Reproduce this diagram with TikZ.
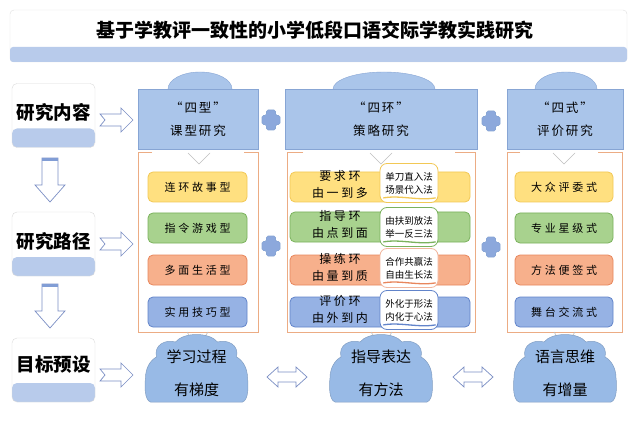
\documentclass[tikz,border=0pt]{standalone}
\usepackage{fontspec}
\newfontfamily\cjk{Noto Sans CJK SC}
\newfontfamily\cjkw[LetterSpace=25]{Noto Sans CJK SC}
\newfontfamily\cjkm[LetterSpace=15]{Noto Sans CJK SC}
\newfontfamily\cjkx[LetterSpace=22]{Noto Sans CJK SC}
\definecolor{hdr}{RGB}{170,197,234}
\definecolor{hdrd}{RGB}{135,165,212}
\definecolor{band}{RGB}{184,203,235}
\definecolor{frameo}{RGB}{236,172,132}
\definecolor{yel}{RGB}{255,224,128}
\definecolor{yeld}{RGB}{242,200,85}
\definecolor{grn}{RGB}{168,210,142}
\definecolor{grnd}{RGB}{122,178,92}
\definecolor{org}{RGB}{247,176,140}
\definecolor{orgd}{RGB}{232,134,92}
\definecolor{blu}{RGB}{150,178,228}
\definecolor{blud}{RGB}{98,132,202}
\definecolor{arr}{RGB}{122,142,196}
\definecolor{plusf}{RGB}{140,168,220}
\definecolor{cloudf}{RGB}{152,186,230}
\tikzset{
  lblbox/.style={draw=black!14, fill=white, rounded corners=5pt, minimum width=83pt, minimum height=64pt, inner sep=0pt,
    path picture={\fill[band] (path picture bounding box.south west) rectangle ([yshift=19pt]path picture bounding box.south east);}},
  lbltxt/.style={font=\cjk\bfseries\fontsize{18.5}{20}\selectfont, inner sep=0pt},
  hdrbox/.style={draw=hdrd, fill=hdr, minimum height=60pt, inner sep=0pt, align=center,
    font=\cjkm\fontsize{12.5}{23}\selectfont},
  dome/.style={draw=hdrd, fill=hdr},
  cbox/.style={rounded corners=5pt, minimum height=30pt, inner sep=0pt, line width=0.8pt},
  ctxt/.style={font=\cjkw\fontsize{11}{13}\selectfont, inner sep=0pt},
  mtxt/.style={font=\cjkx\fontsize{12}{17}\selectfont, inner sep=0pt, align=center},
  callout/.style={fill=white, rounded corners=7pt, minimum width=58pt, minimum height=39pt, inner sep=0pt, line width=0.8pt,
    align=center, font=\cjk\fontsize{9.5}{13}\selectfont},
  frame/.style={draw=frameo, line width=0.8pt},
  vline/.style={draw=black!25, line width=0.6pt},
  plus/.style={fill=plusf, draw=hdrd, rounded corners=1.5pt, line width=0.6pt},
  blockarr/.style={draw=arr, fill=white, line width=0.7pt, line join=miter},
  cloud/.style={fill=cloudf, draw=cloudf!85!black, line width=0.5pt},
  cloudtxt/.style={font=\cjk\fontsize{15}{33}\selectfont, inner sep=0pt, align=center},
  uline/.style={line width=1.3pt, line cap=round},
}
\begin{document}
\begin{tikzpicture}[x=1pt,y=-1pt]
\useasboundingbox (0,0) rectangle (639,430);
\fill[white] (0,0) rectangle (639,430);
% title
\draw[draw=black!12, fill=white, rounded corners=4pt] (10,10) rectangle (627,62);
\fill[band, rounded corners=3pt] (10,47) rectangle (627,62);
\node[font=\cjk\bfseries\fontsize{19}{21}\selectfont, inner sep=0pt] (title) at (315,30) {基于学教评一致性的小学低段口语交际学教实践研究};

% left labels
\node[lblbox] (k1) at (53.5,115.5) {};
\node[lbltxt] (t1) at (53.5,112) {研究内容};
\node[lblbox] (k2) at (53.5,244) {};
\node[lbltxt] (t2) at (53.5,241) {研究路径};
\node[lblbox] (k3) at (53.5,370) {};
\node[lbltxt] (t3) at (53.5,365) {目标预设};

% down arrows
\foreach \yy in {180,306}{
\begin{scope}[shift={(50,\yy)}]
\path[blockarr] (-8,-22) -- (8,-22) -- (8,5) -- (15,5) -- (0,22) -- (-15,5) -- (-8,5) -- cycle;
\fill[blud!80] (-8,-22) rectangle (8,-19);
\end{scope}}
% right notched arrows
\foreach \yy in {120,244,375}{
\begin{scope}[shift={(116.5,\yy)}]
\path[blockarr] (-16.5,-6) -- (4.5,-6) -- (4.5,-12) -- (16.5,0) -- (4.5,12) -- (4.5,6) -- (-16.5,6) -- (-11.5,0) -- cycle;
\end{scope}}

% header domes and boxes
\draw[dome] (200,89) ellipse (32 and 17);
\draw[dome] (384,89) ellipse (51 and 17);
\draw[dome] (566,89) ellipse (31 and 17);
\node[hdrbox, minimum width=120pt] (h1) at (198,119) {“四型”\\课型研究};
\node[hdrbox, minimum width=192pt] (h2) at (381,119) {“四环”\\策略研究};
\node[hdrbox, minimum width=116pt] (h3) at (565,119) {“四式”\\评价研究};

% plus signs
\foreach \xx/\yy in {271/120, 491/121, 271/246, 491/247}{
\begin{scope}[shift={(\xx,\yy)}]
\path[plus] (-4.5,-10) -- (4.5,-10) -- (4.5,-4.5) -- (9,-4.5) -- (9,4.5) -- (4.5,4.5) -- (4.5,10) -- (-4.5,10) -- (-4.5,4.5) -- (-9,4.5) -- (-9,-4.5) -- (-4.5,-4.5) -- cycle;
\end{scope}}

% frames
\draw[frame] (152,152) -- (138,152) -- (138,332) -- (258,332) -- (258,152) -- (244,152);
\draw[frame] (303,152) -- (287,152) -- (287,332) -- (475,332) -- (475,152) -- (455,152);
\draw[frame] (520,152) -- (507,152) -- (507,332) -- (622,332) -- (622,152) -- (598,152);
% chevrons
\draw[vline] (188,153) -- (199,164) -- (210,153);
\draw[vline] (370,153) -- (381,164) -- (392,153);
\draw[vline] (553,153) -- (564,164) -- (575,153);
% funnels to clouds
\draw[vline] (187,332) -- (193,341); \draw[vline] (208,332) -- (202,341);
\draw[vline] (371,332) -- (377,341); \draw[vline] (392,332) -- (386,341);
\draw[vline] (554,332) -- (560,341); \draw[vline] (575,332) -- (569,341);

% left column boxes
\node[cbox, fill=yel, draw=yeld, minimum width=99pt] (a1) at (197.5,187) {};
\node[ctxt] (a1t) at (197.5,187) {连环故事型};
\node[cbox, fill=grn, draw=grnd, minimum width=99pt] (a2) at (197.5,228) {};
\node[ctxt] (a2t) at (197.5,228) {指令游戏型};
\node[cbox, fill=org, draw=orgd, minimum width=99pt] (a3) at (197.5,270) {};
\node[ctxt] (a3t) at (197.5,270) {多面生活型};
\node[cbox, fill=blu, draw=blud, minimum width=99pt] (a4) at (197.5,312) {};
\node[ctxt] (a4t) at (197.5,312) {实用技巧型};

% middle column boxes
\node[cbox, fill=yel, draw=yeld, minimum width=180pt] (b1) at (380,187) {};
\node[mtxt] (b1t) at (340,184.5) {要求环\\由一到多};
\node[cbox, fill=grn, draw=grnd, minimum width=180pt] (b2) at (380,227) {};
\node[mtxt] (b2t) at (340,224.5) {指导环\\由点到面};
\node[cbox, fill=org, draw=orgd, minimum width=180pt] (b3) at (380,270) {};
\node[mtxt] (b3t) at (340,267.5) {操练环\\由量到质};
\node[cbox, fill=blu, draw=blud, minimum width=180pt] (b4) at (380,312) {};
\node[mtxt] (b4t) at (340,309.5) {评价环\\由外到内};
% callouts
\node[callout, draw=yeld] (p1) at (409,183) {单刀直入法\\场景代入法};
\draw[uline, yeld] ([shift={(4,-5)}]p1.south west) .. controls ([shift={(20,-8)}]p1.south west) and ([shift={(-20,-2)}]p1.south east) .. ([shift={(-3,-5)}]p1.south east);
\node[callout, draw=grnd] (p2) at (409,227) {由扶到放法\\举一反三法};
\draw[uline, grnd] ([shift={(4,-5)}]p2.south west) .. controls ([shift={(20,-8)}]p2.south west) and ([shift={(-20,-2)}]p2.south east) .. ([shift={(-3,-5)}]p2.south east);
\node[callout, draw=orgd!60] (p3) at (409,268) {合作共赢法\\自由生长法};
\draw[uline, orgd] ([shift={(4,-5)}]p3.south west) .. controls ([shift={(20,-8)}]p3.south west) and ([shift={(-20,-2)}]p3.south east) .. ([shift={(-3,-5)}]p3.south east);
\node[callout, draw=blud] (p4) at (409,310) {外化于形法\\内化于心法};
\draw[uline, blud] ([shift={(4,-5)}]p4.south west) .. controls ([shift={(20,-8)}]p4.south west) and ([shift={(-20,-2)}]p4.south east) .. ([shift={(-3,-5)}]p4.south east);

% right column boxes
\node[cbox, fill=yel, draw=yeld, minimum width=98pt] (c1) at (564,187) {};
\node[ctxt] (c1t) at (564,187) {大众评委式};
\node[cbox, fill=grn, draw=grnd, minimum width=98pt] (c2) at (564,228) {};
\node[ctxt] (c2t) at (564,228) {专业星级式};
\node[cbox, fill=org, draw=orgd, minimum width=98pt] (c3) at (564,270) {};
\node[ctxt] (c3t) at (564,270) {方法便签式};
\node[cbox, fill=blu, draw=blud, minimum width=98pt] (c4) at (564,312) {};
\node[ctxt] (c4t) at (564,312) {舞台交流式};

% clouds
\foreach \xx in {196.5,381,565}{
\begin{scope}[shift={(\xx,0)}]
\path[cloud] (-46,402) .. controls (-52,400) and (-52,386) .. (-51,378) .. controls (-51,368) and (-46,360) .. (-40,357) .. controls (-43,345) and (-31,339) .. (-21,342) .. controls (-13,332) and (13,332) .. (21,342) .. controls (31,339) and (43,345) .. (40,357) .. controls (46,360) and (51,368) .. (51,378) .. controls (52,386) and (52,400) .. (46,402) -- cycle;
\end{scope}}
\node[cloudtxt] (g1) at (196.5,373.5) {学习过程\\有梯度};
\node[cloudtxt] (g2) at (381,373.5) {指导表达\\有方法};
\node[cloudtxt] (g3) at (565,373.5) {语言思维\\有增量};
% double arrows
\foreach \xx in {287,473}{
\begin{scope}[shift={(\xx,377)}]
\path[blockarr] (-20,0) -- (-9,-10) -- (-9,-5) -- (9,-5) -- (9,-10) -- (20,0) -- (9,10) -- (9,5) -- (-9,5) -- (-9,10) -- cycle;
\end{scope}}
\end{tikzpicture}
\end{document}
